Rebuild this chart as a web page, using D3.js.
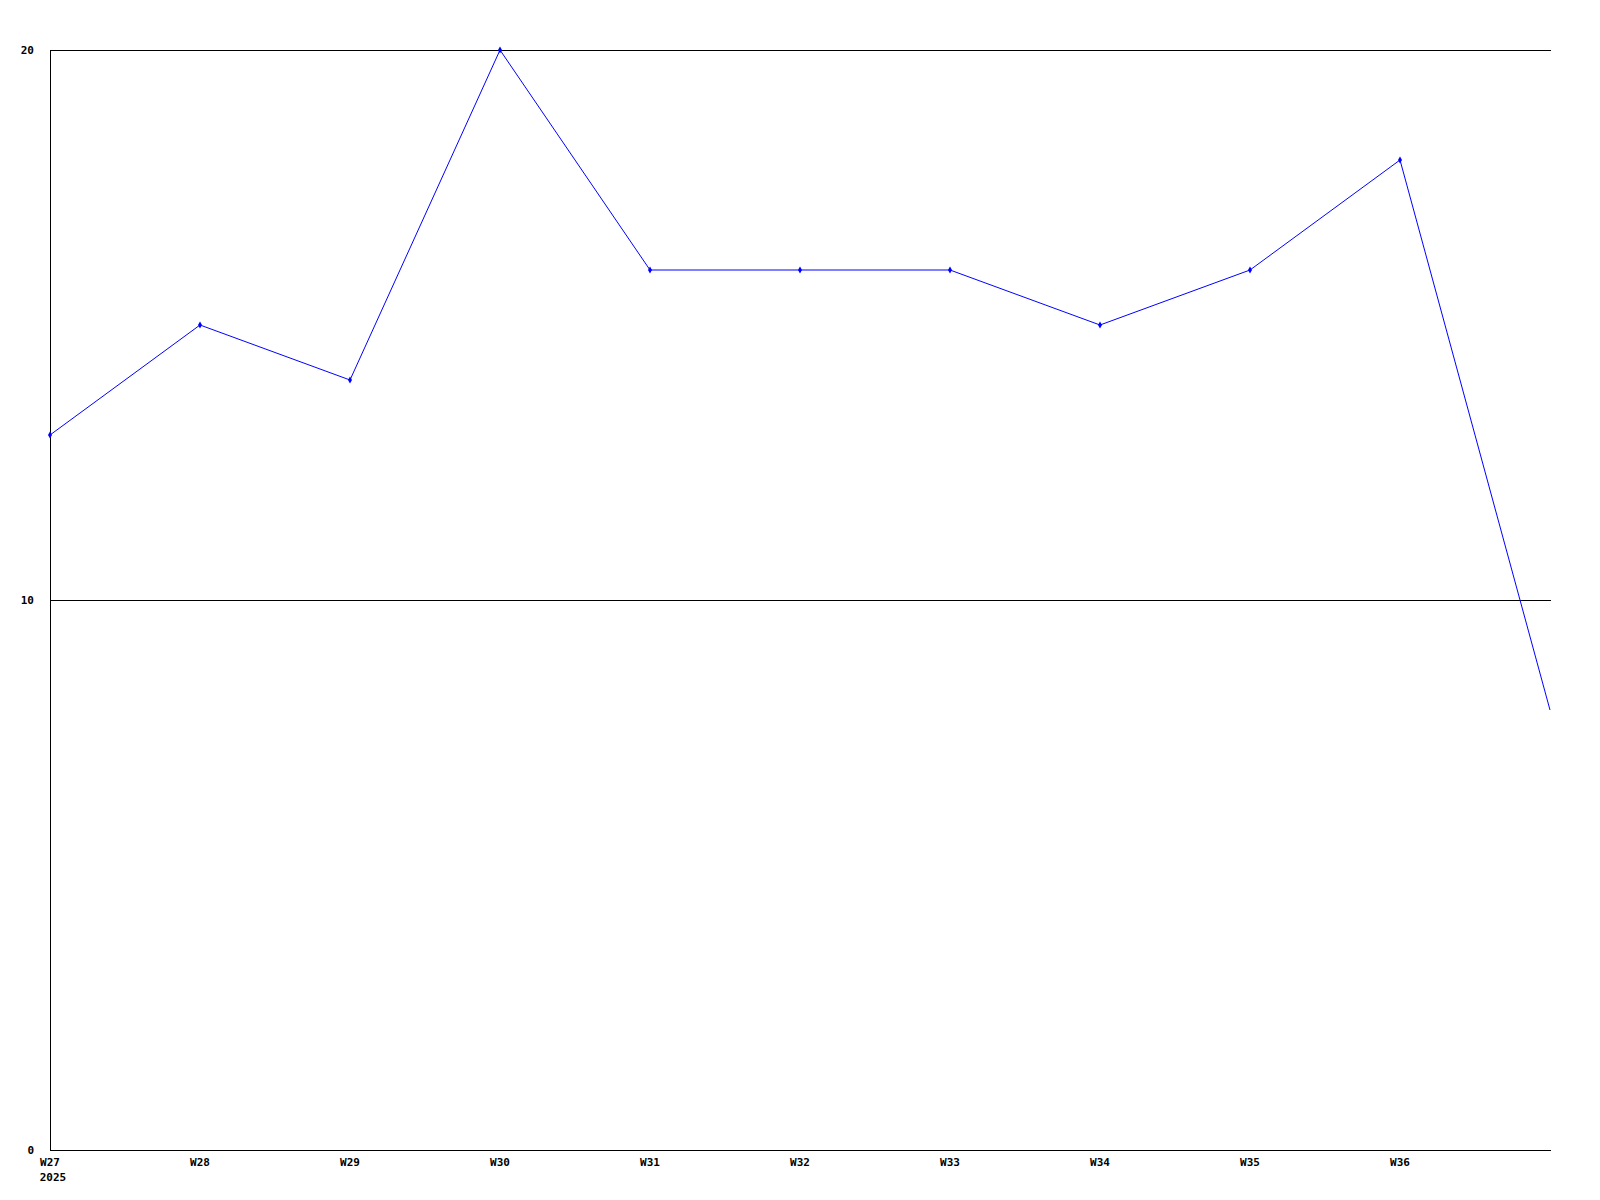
<!DOCTYPE html>
<html>
<head>
<meta charset="utf-8">
<script src="https://cdn.jsdelivr.net/npm/d3@7"></script>
<style>
  body { margin: 0; background: #fff; }
  text { font-family: "DejaVu Sans Mono", monospace; font-weight: bold; font-size: 11px; fill: #000; }
</style>
</head>
<body>
<svg id="chart"></svg>
<script>
// week labels and values
var weeks = ["W27", "W28", "W29", "W30", "W31", "W32", "W33", "W34", "W35", "W36", "W37"];
var values = [13, 15, 14, 20, 16, 16, 16, 15, 16, 18, 8];
var yTicks = [0, 10, 20];
var yearLabel = "2025";

var width = 1600, height = 1200;
var margin = {top: 50, right: 49, bottom: 50, left: 50};

var svg = d3.select("#chart")
  .attr("width", width)
  .attr("height", height);

var x = d3.scalePoint()
  .domain(weeks)
  .range([margin.left, width - margin.right - 1]);

var y = d3.scaleLinear()
  .domain([0, 20])
  .range([height - margin.bottom, margin.top]);

// horizontal grid lines
svg.selectAll(".grid")
  .data(yTicks)
  .enter().append("line")
  .attr("x1", margin.left)
  .attr("x2", width - margin.right)
  .attr("y1", function(d) { return Math.round(y(d)) + 0.5; })
  .attr("y2", function(d) { return Math.round(y(d)) + 0.5; })
  .attr("stroke", "#000")
  .attr("stroke-width", 1);

// left axis line
svg.append("line")
  .attr("x1", margin.left + 0.5)
  .attr("x2", margin.left + 0.5)
  .attr("y1", margin.top)
  .attr("y2", height - margin.bottom + 1)
  .attr("stroke", "#000");

// y labels
svg.selectAll(".ylab")
  .data(yTicks)
  .enter().append("text")
  .attr("x", 34)
  .attr("y", function(d) { return y(d) + 4; })
  .attr("text-anchor", "end")
  .text(function(d) { return d; });

// x labels (last week has no label)
svg.selectAll(".xlab")
  .data(weeks.slice(0, 10))
  .enter().append("text")
  .attr("x", function(d) { return x(d); })
  .attr("y", height - margin.bottom + 16)
  .attr("text-anchor", "middle")
  .text(function(d) { return d; });

svg.append("text")
  .attr("x", x(weeks[0]) + 3)
  .attr("y", height - margin.bottom + 31)
  .attr("text-anchor", "middle")
  .text(yearLabel);

var pts = weeks.map(function(w, i) { return {w: w, v: values[i]}; });

var line = d3.line()
  .x(function(d) { return x(d.w); })
  .y(function(d) { return y(d.v); });

svg.append("path")
  .datum(pts)
  .attr("d", line)
  .attr("fill", "none")
  .attr("stroke", "#0000ff")
  .attr("stroke-width", 1);

// small diamond markers
svg.selectAll(".pt")
  .data(pts.slice(0, 10))
  .enter().append("path")
  .attr("d", d3.symbol().type(d3.symbolDiamond).size(14))
  .attr("transform", function(d) { return "translate(" + x(d.w) + "," + y(d.v) + ")"; })
  .attr("fill", "#0000ff");
</script>
</body>
</html>
